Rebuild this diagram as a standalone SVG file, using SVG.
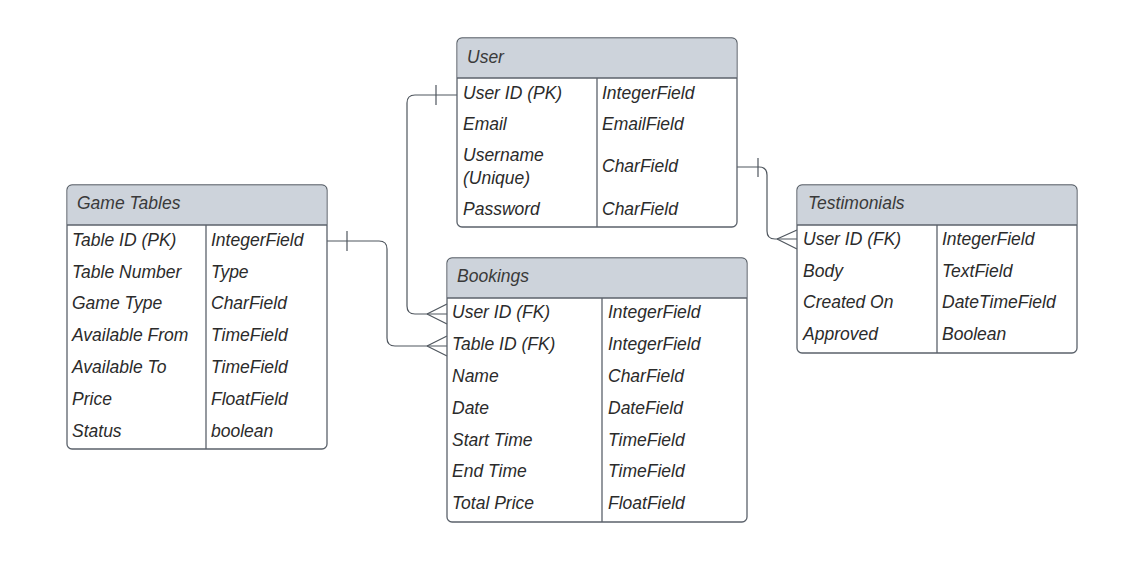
<svg xmlns="http://www.w3.org/2000/svg" width="1124" height="588" viewBox="0 0 1124 588">
<style>
.box{fill:#ffffff;stroke:#5b626b;stroke-width:1.3}
.hdr{fill:#cdd3db;stroke:none}
.ln{stroke:#5b626b;stroke-width:1.3;fill:none}
.t{font-family:"Liberation Sans",Arial,sans-serif;font-style:italic;font-size:17.5px;fill:#2b2b2b}
.h{font-family:"Liberation Sans",Arial,sans-serif;font-style:italic;font-size:17.5px;fill:#3a3a3a}
.con{stroke:#4f565e;stroke-width:1.2;fill:none}
</style>
<rect width="1124" height="588" fill="#ffffff"/>
<g id="connectors">
<path class="con" d="M457,95 H415 Q407,95 407,103 V306 Q407,314 415,314 H447"/>
<line class="con" x1="436" y1="85" x2="436" y2="105"/>
<path class="con" d="M427,314 L447,304 M427,314 L447,324"/>
<path class="con" d="M327,241 H379 Q387,241 387,249 V338 Q387,346 395,346 H447"/>
<line class="con" x1="347" y1="231" x2="347" y2="251"/>
<path class="con" d="M427,346 L447,336 M427,346 L447,356"/>
<path class="con" d="M737,167 H759 Q767,167 767,175 V231 Q767,239 775,239 H797"/>
<line class="con" x1="758" y1="158" x2="758" y2="177"/>
<path class="con" d="M777,239 L797,230 M777,239 L797,249"/>
</g>
<g id="user">
<rect class="box" x="457" y="38" width="280" height="189" rx="5"/>
<path class="hdr" d="M462.6,38.6 H731.4 Q736.4,38.6 736.4,43.6 V78 H457.6 V43.6 Q457.6,38.6 462.6,38.6 Z"/>
<line class="ln" x1="457" y1="78" x2="737" y2="78"/>
<line class="ln" x1="597" y1="78" x2="597" y2="227"/>
<text class="h" x="467" y="63">User</text>
<text class="t" x="463" y="99">User ID (PK)</text>
<text class="t" x="602" y="99">IntegerField</text>
<text class="t" x="463" y="130">Email</text>
<text class="t" x="602" y="130">EmailField</text>
<text class="t" x="463" y="161">Username</text>
<text class="t" x="463" y="184">(Unique)</text>
<text class="t" x="602" y="172">CharField</text>
<text class="t" x="463" y="215">Password</text>
<text class="t" x="602" y="215">CharField</text>
</g>
<g id="game-tables">
<rect class="box" x="67" y="185" width="260" height="264" rx="5"/>
<path class="hdr" d="M72.6,185.6 H321.4 Q326.4,185.6 326.4,190.6 V225 H67.6 V190.6 Q67.6,185.6 72.6,185.6 Z"/>
<line class="ln" x1="67" y1="225" x2="327" y2="225"/>
<line class="ln" x1="206" y1="225" x2="206" y2="449"/>
<text class="h" x="77" y="209">Game Tables</text>
<text class="t" x="72" y="246">Table ID (PK)</text>
<text class="t" x="211" y="246">IntegerField</text>
<text class="t" x="72" y="278">Table Number</text>
<text class="t" x="211" y="278">Type</text>
<text class="t" x="72" y="309">Game Type</text>
<text class="t" x="211" y="309">CharField</text>
<text class="t" x="72" y="341">Available From</text>
<text class="t" x="211" y="341">TimeField</text>
<text class="t" x="72" y="373">Available To</text>
<text class="t" x="211" y="373">TimeField</text>
<text class="t" x="72" y="405">Price</text>
<text class="t" x="211" y="405">FloatField</text>
<text class="t" x="72" y="437">Status</text>
<text class="t" x="211" y="437">boolean</text>
</g>
<g id="bookings">
<rect class="box" x="447" y="258" width="300" height="264" rx="5"/>
<path class="hdr" d="M452.6,258.6 H741.4 Q746.4,258.6 746.4,263.6 V298 H447.6 V263.6 Q447.6,258.6 452.6,258.6 Z"/>
<line class="ln" x1="447" y1="298" x2="747" y2="298"/>
<line class="ln" x1="602" y1="298" x2="602" y2="522"/>
<text class="h" x="457" y="282">Bookings</text>
<text class="t" x="452" y="318">User ID (FK)</text>
<text class="t" x="608" y="318">IntegerField</text>
<text class="t" x="452" y="350">Table ID (FK)</text>
<text class="t" x="608" y="350">IntegerField</text>
<text class="t" x="452" y="382">Name</text>
<text class="t" x="608" y="382">CharField</text>
<text class="t" x="452" y="414">Date</text>
<text class="t" x="608" y="414">DateField</text>
<text class="t" x="452" y="446">Start Time</text>
<text class="t" x="608" y="446">TimeField</text>
<text class="t" x="452" y="477">End Time</text>
<text class="t" x="608" y="477">TimeField</text>
<text class="t" x="452" y="509">Total Price</text>
<text class="t" x="608" y="509">FloatField</text>
</g>
<g id="testimonials">
<rect class="box" x="797" y="185" width="280" height="168" rx="5"/>
<path class="hdr" d="M802.6,185.6 H1071.4 Q1076.4,185.6 1076.4,190.6 V225 H797.6 V190.6 Q797.6,185.6 802.6,185.6 Z"/>
<line class="ln" x1="797" y1="225" x2="1077" y2="225"/>
<line class="ln" x1="937" y1="225" x2="937" y2="353"/>
<text class="h" x="808" y="209">Testimonials</text>
<text class="t" x="803" y="245">User ID (FK)</text>
<text class="t" x="942" y="245">IntegerField</text>
<text class="t" x="803" y="277">Body</text>
<text class="t" x="942" y="277">TextField</text>
<text class="t" x="803" y="308">Created On</text>
<text class="t" x="942" y="308">DateTimeField</text>
<text class="t" x="803" y="340">Approved</text>
<text class="t" x="942" y="340">Boolean</text>
</g>
</svg>
